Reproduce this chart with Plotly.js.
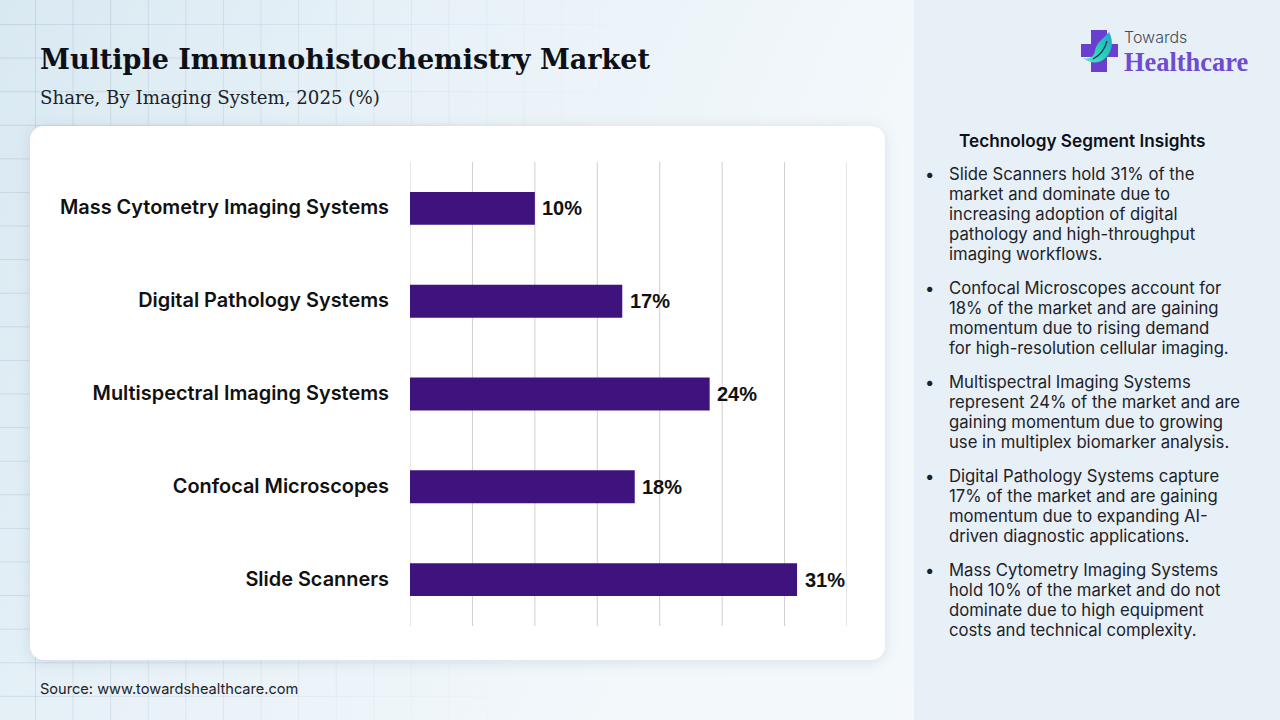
<!DOCTYPE html>
<html><head><meta charset="utf-8">
<script src="https://cdn.plot.ly/plotly-3.0.1.min.js"></script>
<style>
html,body{margin:0;padding:0;width:1280px;height:720px;overflow:hidden}
#bg{position:absolute;left:0;top:0;width:1280px;height:720px;background:linear-gradient(115deg,#d9e9f2 0%,#e9f2f8 30%,#f3f8fb 60%,#f5f9fc 100%)}
#grid{position:absolute;left:0;top:0;width:914px;height:720px;
background-image:linear-gradient(to right,rgba(170,190,205,.45) 1px,transparent 1px),linear-gradient(to bottom,rgba(170,190,205,.45) 1px,transparent 1px);
background-size:37.6px 33.6px;background-position:35px 24px;
-webkit-mask-image:linear-gradient(100deg,#000 0%,rgba(0,0,0,.6) 30%,transparent 62%)}
#side{position:absolute;left:914px;top:0;width:366px;height:720px;background:#e8f0f7}
#card{position:absolute;left:30px;top:126px;width:855px;height:534px;background:#fff;border-radius:14px;box-shadow:0 2px 14px rgba(120,140,160,.22)}
#logo{position:absolute;left:1080px;top:29px}
#chart{position:absolute;left:0;top:0;width:1280px;height:720px}
</style></head><body>
<div id="bg"></div><div id="grid"></div><div id="side"></div><div id="card"></div>
<svg id="logo" width="42" height="44" viewBox="0 0 42 44">
<defs><linearGradient id="lf" x1="1" y1="0" x2="0" y2="1"><stop offset="0" stop-color="#2a9fd0"/><stop offset=".5" stop-color="#22d3b0"/><stop offset="1" stop-color="#5fe0d0"/></linearGradient></defs>
<path d="M11 1h16v14h11v13H27v15H11V28H1V15h10z" fill="#6a3fd0"/>
<path d="M29 3C34 12 33 24 23 31C18 34 11 35 3 29C10 31 14 27 15 22C16 14 24 9 29 3z" fill="url(#lf)"/>
<path d="M27 12C25 20 21 26 13 30" fill="none" stroke="#1d2a66" stroke-width="1.2"/>
</svg>
<div id="chart"></div>
<script>
const categories = ["Slide Scanners","Confocal Microscopes","Multispectral Imaging Systems","Digital Pathology Systems","Mass Cytometry Imaging Systems"];
const shares = [31,18,24,17,10];
const valueLabels = ["31%","18%","24%","17%","10%"];
const xTicks = [0,5,10,15,20,25,30,35];
const insightTitle = "Technology Segment Insights";
const insights = [
 ["Slide Scanners hold 31% of the","market and dominate due to","increasing adoption of digital","pathology and high-throughput","imaging workflows."],
 ["Confocal Microscopes account for","18% of the market and are gaining","momentum due to rising demand","for high-resolution cellular imaging."],
 ["Multispectral Imaging Systems","represent 24% of the market and are","gaining momentum due to growing","use in multiplex biomarker analysis."],
 ["Digital Pathology Systems capture","17% of the market and are gaining","momentum due to expanding AI-","driven diagnostic applications."],
 ["Mass Cytometry Imaging Systems","hold 10% of the market and do not","dominate due to high equipment","costs and technical complexity."]
];
const insightCenters = [174,288,382,476,570];

const W=1280,H=720,L=409.5,R=847.5,T=162,B=626;
const px=x=>(x-L)/(R-L), py=y=>(B-y)/(B-T);
const SANS="Inter, 'Noto Sans', sans-serif", SERIF="'DejaVu Serif', serif";
function txt(x,y,text,font,opts){return Object.assign({xref:'paper',yref:'paper',x:px(x),y:py(y),text,showarrow:false,xanchor:'left',yanchor:'middle',align:'left',font,borderpad:0},opts||{});}

const ann=[
 txt(38,60,"Multiple Immunohistochemistry Market",{family:SERIF,size:27,color:"#0d1117",weight:700}),
 txt(38,98,"Share, By Imaging System, 2025 (%)",{family:SERIF,size:18.2,color:"#1c2228"}),
 txt(38,689,"Source: www.towardshealthcare.com",{family:SANS,size:14.6,color:"#1c2228"}),
 txt(959,140,insightTitle,{family:SANS,size:17.2,color:"#0d1117",weight:600}),
 txt(1124,37,"Towards",{family:SANS,size:16,color:"#444b55",weight:300}),
 txt(1124,62,"Healthcare",{family:"'Liberation Serif',serif",size:26.4,color:"#6f4bd0",weight:700})
];
insights.forEach((lines,i)=>{
 lines.forEach((t,j)=>ann.push(txt(949,insightCenters[i]+20*j,t,{family:SANS,size:16.7,color:"#1c2228"})));
 ann.push(txt(925,insightCenters[i],"•",{family:SANS,size:16.7,color:"#1c2228"}));
});
categories.forEach((c,i)=>ann.push({xref:'x',yref:'y',x:shares[i],y:c,text:valueLabels[i],showarrow:false,xanchor:'left',xshift:5.5,yshift:0,
  font:{family:"'Liberation Sans',Arial,sans-serif",size:20,color:"#111",weight:700}}));

const gridShapes=xTicks.map(v=>({type:'line',layer:'below',xref:'x',yref:'paper',x0:v,x1:v,y0:0,y1:1,line:{color:'#cfcfcf',width:1}}));

Plotly.newPlot('chart',[{type:'bar',orientation:'h',y:categories,x:shares,marker:{color:'#3e137e'},hoverinfo:'none'}],{
 width:W,height:H,margin:{l:L,r:W-R,t:T,b:H-B,pad:0},
 paper_bgcolor:'rgba(0,0,0,0)',plot_bgcolor:'rgba(0,0,0,0)',bargap:0.645,showlegend:false,
 xaxis:{range:[0,35],tickvals:xTicks,showticklabels:false,showgrid:false,zeroline:false,showline:false,ticks:''},
 yaxis:{type:'category',categoryorder:'array',categoryarray:categories,showgrid:false,zeroline:false,showline:false,ticks:'',ticklabelstandoff:20,ticklabelshift:-1,
  tickfont:{family:SANS,size:19.9,color:'#111',weight:600}},
 shapes:gridShapes,annotations:ann
},{displayModeBar:false,staticPlot:true});
</script></body></html>
